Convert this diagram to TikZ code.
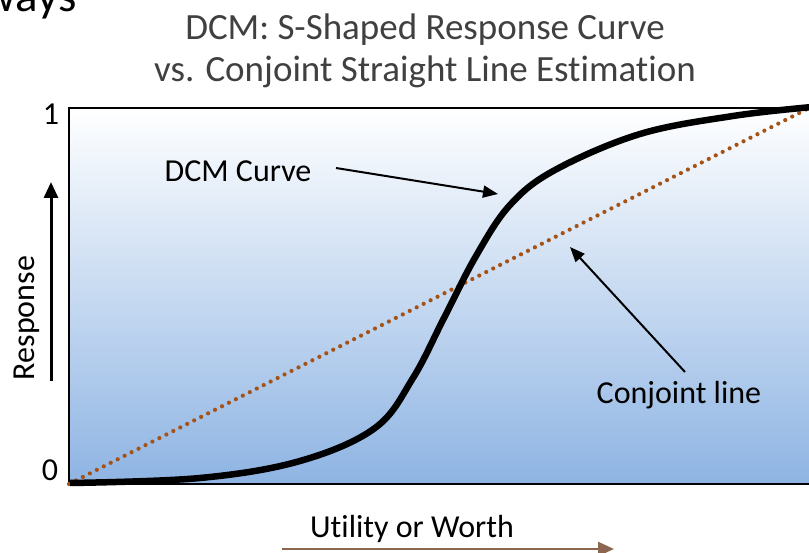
\documentclass[tikz,border=0pt]{standalone}
\usepackage{fontspec}
\setmainfont{Carlito}[Ligatures=NoCommon]
\usetikzlibrary{arrows.meta}

\definecolor{plotblue}{RGB}{142,180,227}
\definecolor{conjbrown}{RGB}{165,82,22}
\definecolor{axisbrown}{RGB}{140,102,80}
\definecolor{titlegray}{RGB}{64,64,64}

\begin{document}
\begin{tikzpicture}[
  x=1pt, y=-1pt,
  label text/.style={inner sep=0pt, font=\fontsize{32}{38}\selectfont},
  title text/.style={inner sep=0pt, text=titlegray, font=\fontsize{37}{42}\selectfont},
  dcm curve/.style={line width=6.5pt, line join=round},
  conjoint/.style={conjbrown, line width=4.2pt, line cap=round,
    dash pattern=on 0pt off 7.8pt},
  pointer/.style={line width=2pt, -{Triangle[length=15pt,width=12pt]}},
  axis arrow/.style={line width=3pt, -{Triangle[length=16pt,width=14pt]}}
  ]
  \useasboundingbox (0,0) rectangle (809,553);

  % plot area
  \shade[top color=white, bottom color=plotblue] (69,108) rectangle (820,484);
  \draw[line width=1.6pt] (820,108) -- (69,108) -- (69,484) -- (820,484);

  % straight line estimate and S-curve
  \draw[conjoint] (69,484) -- (809,108);
  \draw[dcm curve] plot[smooth, tension=0.6] coordinates {
    (70,483) (200,478) (300,461) (375,428) (413,378) (444,318)
    (476,256) (510,205) (555,170) (640,134) (733,116) (812,107)};

  % titles
  \node[anchor=base east, inner sep=0pt, font=\fontsize{47}{52}\selectfont] (ways) at (77,12) {ways};
  \node[title text, anchor=base] (title) at (425,40) {DCM: S-Shaped Response Curve};
  \node[title text, anchor=base] (subtitle) at (425,82) {vs. Conjoint Straight Line Estimation};

  % axes
  \node[label text, anchor=base] (one) at (51,125) {1};
  \node[label text, anchor=base] (zero) at (50,480) {0};
  \node[label text, rotate=90] (response) at (27,318) {Response};
  \node[label text, anchor=base] (utility) at (412,537) {Utility or Worth};
  \coordinate (resp start) at (51,381);
  \coordinate (resp end) at (51,182);
  \coordinate (util start) at (282,549);
  \coordinate (util end) at (614,549);
  \draw[axis arrow] (resp start) -- (resp end);
  \draw[axis arrow, axisbrown, line width=2.5pt] (util start) -- (util end);

  % callouts
  \node[label text, anchor=base] (dcm label) at (238,182) {DCM Curve};
  \node[label text, anchor=base] (conj label) at (679,403) {Conjoint line};
  \coordinate (dcm tip) at (498,194);
  \coordinate (conj tip) at (570,247);
  \draw[pointer] (336,168) -- (dcm tip);
  \draw[pointer] (685,372) -- (conj tip);
\end{tikzpicture}
\end{document}
